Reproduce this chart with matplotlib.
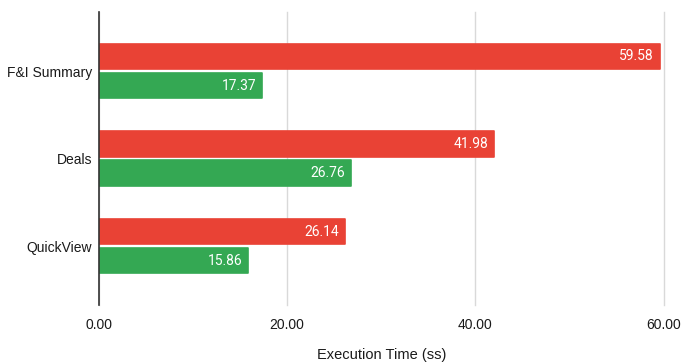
import numpy as np
import matplotlib.pyplot as plt

categories = ['F&I Summary', 'Deals', 'QuickView']
before = [59.58, 41.98, 26.14]
after = [17.37, 26.76, 15.86]
xticks = [0, 20, 40, 60]

red = '#E94235'
green = '#34A853'

fig = plt.figure(figsize=(6.82, 3.64), dpi=100)
ax = fig.add_axes([0.145, 0.162, 0.828, 0.805])

y = np.arange(len(categories))
off = 0.166
h = 0.295

b1 = ax.barh(y - off, before, height=h, color=red, edgecolor=red, linewidth=1.2,
             joinstyle='round', zorder=3)
b2 = ax.barh(y + off, after, height=h, color=green, edgecolor=green, linewidth=1.2,
             joinstyle='round', zorder=3)

for bars in (b1, b2):
    for bar in bars:
        w = bar.get_width()
        ax.text(w - 0.6, bar.get_y() + bar.get_height() / 2, f'{w:.2f}',
                ha='right', va='center', color='white', fontsize=10,
                family='Roboto', zorder=4)

ax.set_xlim(0, 60)
ax.set_ylim(2.674, -0.674)
ax.set_yticks(y)
ax.set_yticklabels(categories, fontsize=10, family='Liberation Sans', color='#1a1a1a')
ax.set_xticks(xticks)
ax.set_xticklabels([f'{v:.2f}' for v in xticks], fontsize=10,
                   family='Liberation Sans', color='#1a1a1a')
ax.tick_params(axis='both', length=0)
ax.tick_params(axis='x', pad=9)
ax.tick_params(axis='y', pad=5)

ax.grid(axis='x', color='#d9d9d9', linewidth=1, zorder=0)
for gl in ax.get_xgridlines():
    gl.set_clip_on(False)
for s in ['top', 'right', 'bottom']:
    ax.spines[s].set_visible(False)
ax.spines['left'].set_color('#333333')
ax.spines['left'].set_linewidth(1.2)
ax.spines['left'].set_zorder(5)

ax.set_xlabel('Execution Time (ss)', fontsize=10.5, family='Liberation Sans',
              color='#1a1a1a', labelpad=12)

fig.savefig('out.png', dpi=100)
